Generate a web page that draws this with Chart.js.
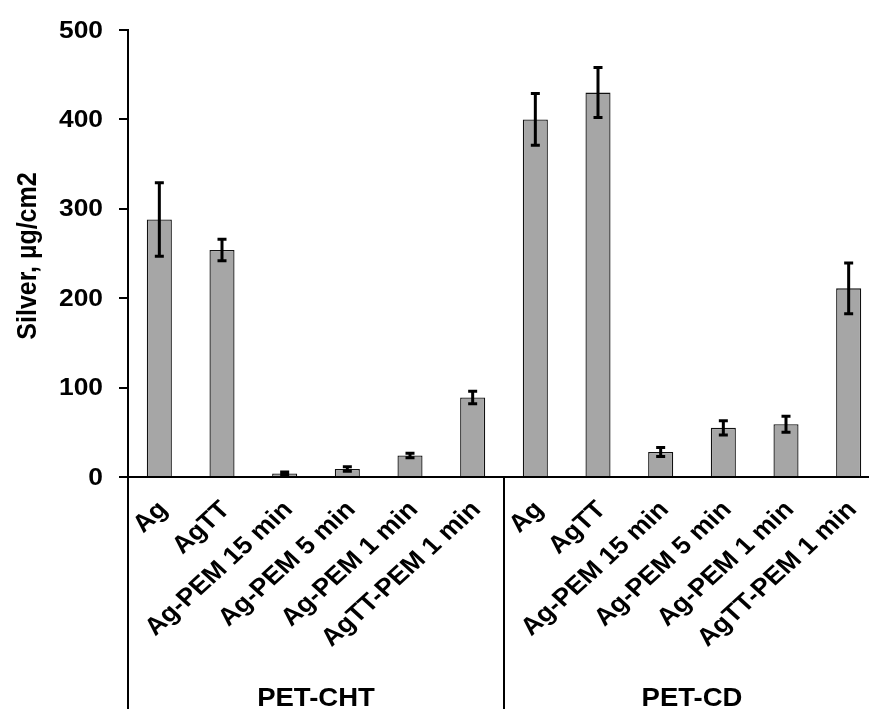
<!DOCTYPE html>
<html>
<head>
<meta charset="utf-8">
<script src="https://cdn.jsdelivr.net/npm/chart.js@4"></script>
<style>
  html, body { margin: 0; padding: 0; background: #fff; overflow: hidden; width: 869px; height: 709px; }
  canvas { display: block; }
</style>
</head>
<body>
<canvas id="c" width="890" height="709"></canvas>
<script>
// ---- data ----
const subCategories = ['Ag', 'AgTT', 'Ag-PEM 15 min', 'Ag-PEM 5 min', 'Ag-PEM 1 min', 'AgTT-PEM 1 min'];
const groups = ['PET-CHT', 'PET-CD'];
const categories = groups.flatMap(() => subCategories);
const silverValues = [288, 254, 4, 9, 24, 89, 400, 430, 28, 55, 59, 211];
const silverErrors = [41, 12, 1.5, 2.5, 2.5, 7, 29, 28, 5, 8, 9, 28.5];
const yTicks = [0, 100, 200, 300, 400, 500];
const yTitle = 'Silver, µg/cm2';

const FONT = '"Liberation Sans", Arial, sans-serif';
const SX = 1.1; // text in the reference is slightly wide

const overlay = {
  id: 'overlay',
  afterDatasetsDraw(chart) {
    const ctx = chart.ctx;
    const x = chart.scales.x, y = chart.scales.y;
    ctx.save();
    ctx.strokeStyle = '#000';
    ctx.lineWidth = 3;
    ctx.lineCap = 'butt';
    silverValues.forEach((v, i) => {
      const cx = x.getPixelForValue(i);
      const top = y.getPixelForValue(v + silverErrors[i]);
      const bot = y.getPixelForValue(v - silverErrors[i]);
      ctx.beginPath();
      ctx.moveTo(cx, top); ctx.lineTo(cx, bot);
      ctx.moveTo(cx - 4.5, top); ctx.lineTo(cx + 4.5, top);
      ctx.moveTo(cx - 4.5, bot); ctx.lineTo(cx + 4.5, bot);
      ctx.stroke();
    });
    ctx.restore();
  },
  afterDraw(chart) {
    const ctx = chart.ctx;
    const x = chart.scales.x, y = chart.scales.y;
    const area = chart.chartArea;
    const H = chart.height;
    ctx.save();
    ctx.strokeStyle = '#000';
    ctx.lineWidth = 2;
    const n = subCategories.length;
    const step = (area.right - area.left) / categories.length;
    for (let g = 0; g <= groups.length; g++) {
      const lx = Math.round(area.left + g * n * step);
      ctx.beginPath();
      ctx.moveTo(lx, area.bottom);
      ctx.lineTo(lx, H);
      ctx.stroke();
    }
    ctx.fillStyle = '#000';
    // y tick labels
    ctx.font = 'bold 24px ' + FONT;
    ctx.textAlign = 'right';
    ctx.textBaseline = 'middle';
    yTicks.forEach(v => {
      ctx.save();
      ctx.translate(area.left - 25, y.getPixelForValue(v) + 1);
      ctx.scale(SX, 1);
      ctx.fillText(String(v), 0, 0);
      ctx.restore();
    });
    // category labels
    ctx.font = 'bold 24.5px ' + FONT;
    categories.forEach((lab, i) => {
      const cx = x.getPixelForValue(i);
      ctx.save();
      ctx.translate(cx + 4, area.bottom + 29);
      ctx.scale(SX, 1);
      ctx.rotate(-Math.PI / 4);
      ctx.fillText(lab, 0, 0);
      ctx.restore();
    });
    // group labels
    ctx.font = 'bold 25px ' + FONT;
    ctx.textAlign = 'center';
    ctx.textBaseline = 'alphabetic';
    groups.forEach((g, gi) => {
      const gx = area.left + (gi * n + n / 2) * step;
      ctx.save();
      ctx.translate(gx, 706);
      ctx.scale(SX, 1);
      ctx.fillText(g, 0, 0);
      ctx.restore();
    });
    // y title
    ctx.font = 'bold 25px ' + FONT;
    ctx.textBaseline = 'middle';
    ctx.save();
    ctx.translate(28, 256);
    ctx.scale(SX, 1);
    ctx.rotate(-Math.PI / 2);
    ctx.fillText(yTitle, 0, 0);
    ctx.restore();
    ctx.restore();
  }
};

new Chart(document.getElementById('c'), {
  type: 'bar',
  data: {
    labels: categories,
    datasets: [{
      data: silverValues,
      backgroundColor: '#a6a6a6',
      borderColor: '#111',
      borderWidth: 1.3,
      categoryPercentage: 1.0,
      barPercentage: 0.4
    }]
  },
  options: {
    responsive: false,
    animation: false,
    devicePixelRatio: 1,
    layout: { padding: { top: 30, right: 10, left: 0, bottom: 0 } },
    plugins: { legend: { display: false }, tooltip: { enabled: false }, title: { display: false } },
    scales: {
      x: {
        grid: { display: false },
        ticks: { display: false },
        border: { display: true, color: '#000', width: 2 },
        afterFit(scale) { scale.height = 232; }
      },
      y: {
        min: 0, max: 500,
        afterBuildTicks(scale) { scale.ticks = yTicks.map(v => ({ value: v })); },
        ticks: { display: false },
        grid: { display: true, drawOnChartArea: false, drawTicks: true, tickLength: 9, color: '#000', lineWidth: 2 },
        border: { display: true, color: '#000', width: 2 },
        afterFit(scale) { scale.width = 128; }
      }
    }
  },
  plugins: [overlay]
});
</script>
</body>
</html>
